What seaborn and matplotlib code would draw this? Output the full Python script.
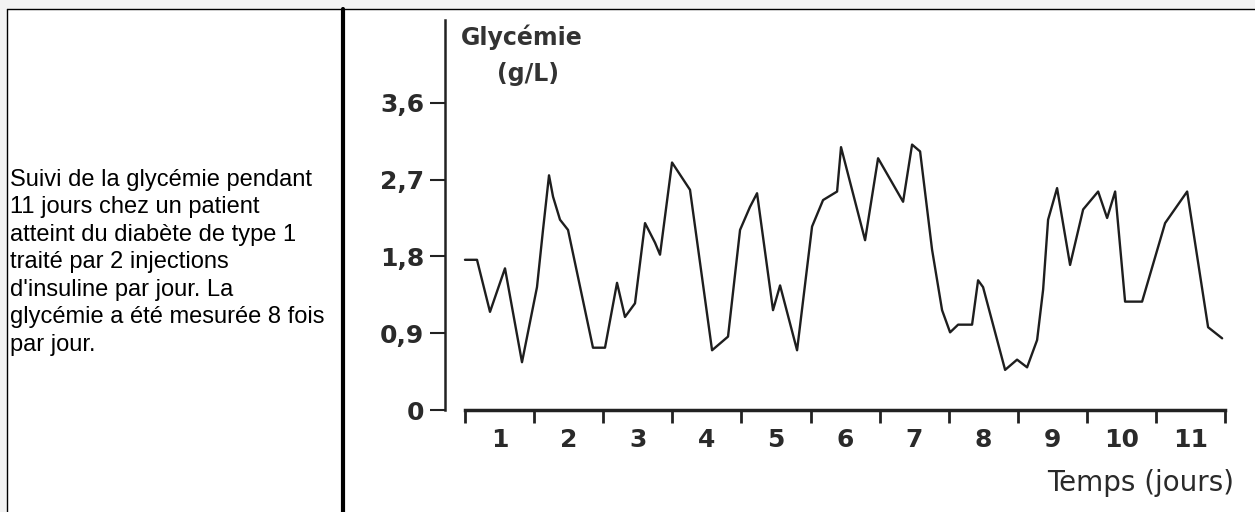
import matplotlib
matplotlib.use("Agg")
import matplotlib.pyplot as plt
import seaborn as sns
from matplotlib.patches import Rectangle
from matplotlib.lines import Line2D

# Temps (jours) et glycémie (g/L)
jours = [0.000, 0.174, 0.362, 0.579, 0.825, 1.042, 1.129, 1.216, 1.274, 1.375,
         1.491, 1.852, 2.026, 2.200, 2.315, 2.460, 2.605, 2.750, 2.822, 2.996,
         3.256, 3.575, 3.806, 3.980, 4.124, 4.226, 4.457, 4.559, 4.805, 5.022,
         5.181, 5.384, 5.441, 5.789, 5.977, 6.339, 6.469, 6.585, 6.758, 6.903,
         7.019, 7.135, 7.337, 7.424, 7.496, 7.815, 7.988, 8.133, 8.278, 8.365,
         8.437, 8.567, 8.755, 8.944, 9.161, 9.291, 9.407, 9.551, 9.797, 10.130,
         10.449, 10.752, 10.955]
glycemie = [1.76, 1.76, 1.15, 1.66, 0.56, 1.44, 2.11, 2.75, 2.50, 2.23,
            2.11, 0.73, 0.73, 1.49, 1.09, 1.25, 2.19, 1.96, 1.82, 2.90,
            2.58, 0.70, 0.86, 2.11, 2.38, 2.54, 1.17, 1.46, 0.70, 2.15,
            2.46, 2.56, 3.08, 1.99, 2.95, 2.44, 3.11, 3.03, 1.88, 1.17,
            0.91, 1.00, 1.00, 1.52, 1.44, 0.47, 0.59, 0.50, 0.82, 1.41,
            2.23, 2.60, 1.70, 2.35, 2.56, 2.25, 2.56, 1.27, 1.27, 2.19,
            2.56, 0.97, 0.84]

y_ticks = [0, 0.9, 1.8, 2.7, 3.6]
y_labels = ["0", "0,9", "1,8", "2,7", "3,6"]
jours_labels = [str(i) for i in range(1, 12)]

description = ("Suivi de la glycémie pendant\n"
               "11 jours chez un patient\n"
               "atteint du diabète de type 1\n"
               "traité par 2 injections\n"
               "d'insuline par jour. La\n"
               "glycémie a été mesurée 8 fois\n"
               "par jour.")

W, H = 1255, 512

def fx(x):
    return x / W

def fy(y):
    return 1 - y / H

sns.set_style("white")
plt.rcParams["font.family"] = ["DejaVu Sans"]

fig = plt.figure(figsize=(W / 100, H / 100), dpi=100)
fig.patch.set_facecolor("#f3f3f3")

# cadre du tableau
fig.add_artist(Rectangle((fx(7), 0), 1 - fx(7), fy(9), transform=fig.transFigure,
                         facecolor="white", edgecolor="none", zorder=0))
fig.add_artist(Line2D([fx(7), 1], [fy(9), fy(9)], transform=fig.transFigure, color="black", lw=1))
fig.add_artist(Line2D([fx(7), fx(7)], [0, fy(9)], transform=fig.transFigure, color="black", lw=1))
fig.add_artist(Line2D([fx(343), fx(343)], [0, fy(9)], transform=fig.transFigure, color="black", lw=3))

fig.text(fx(10), fy(169), description, ha="left", va="top", fontsize=17,
         family=["Liberation Sans", "DejaVu Sans"], linespacing=1.32, color="black")

# graphique
ax = fig.add_axes([fx(445), fy(410), fx(1228) - fx(445), fy(20) - fy(410)])
ax.set_facecolor("none")
sns.lineplot(x=jours, y=glycemie, sort=False, estimator=None, color="#1e1e1e",
             lw=1.7, ax=ax)

ax.set_xlim(-0.289, 11.04)
ax.set_ylim(0, 4.57)
for s in ["top", "right"]:
    ax.spines[s].set_visible(False)
ax.spines["left"].set_color("#222222")
ax.spines["left"].set_linewidth(1.8)
ax.spines["bottom"].set_color("#222222")
ax.spines["bottom"].set_linewidth(2.5)
ax.spines["bottom"].set_bounds(0, 11)

ax.set_yticks(y_ticks)
ax.set_yticklabels(y_labels)
ax.set_xticks(range(12))
ax.set_xticklabels([])
ax.set_xticks([i + 0.5 for i in range(11)], jours_labels, minor=True)

for lab in ax.get_yticklabels() + ax.get_xticklabels(minor=True):
    lab.set_fontfamily("DejaVu Sans")
    lab.set_fontweight("bold")
    lab.set_fontsize(18)
    lab.set_color("#2a2a2a")

ax.tick_params(axis="y", which="major", direction="out", length=11, width=1.5,
               color="#222222", pad=4, left=True)
ax.tick_params(axis="x", which="major", direction="out", length=9, width=2,
               color="#222222", bottom=True)
ax.tick_params(axis="x", which="minor", length=0, pad=13)
ax.set_xlabel("")
ax.set_ylabel("")

fig.text(fx(461), fy(37), "Glycémie", ha="left", va="center", fontsize=17,
         weight="bold", color="#333333")
fig.text(fx(528), fy(74), "(g/L)", ha="center", va="center", fontsize=17,
         weight="bold", color="#333333")
fig.text(fx(1234), fy(483), "Temps (jours)", ha="right", va="center", fontsize=20,
         color="#2a2a2a")

fig.savefig("out.png", dpi=100, facecolor=fig.get_facecolor())
